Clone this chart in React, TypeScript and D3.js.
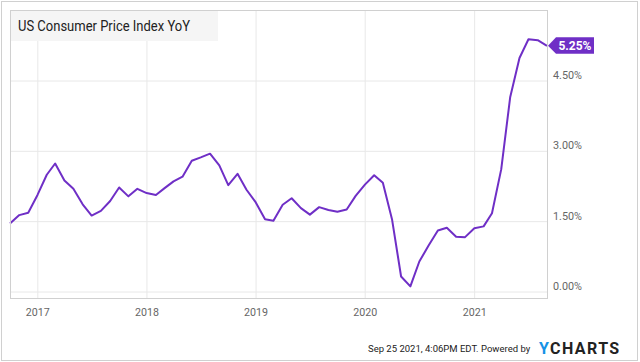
import React from "react";
import * as d3 from "d3";

const months: string[] = [
  "2016-09-30","2016-10-31","2016-11-30","2016-12-31",
  "2017-01-31","2017-02-28","2017-03-31","2017-04-30","2017-05-31","2017-06-30","2017-07-31","2017-08-31","2017-09-30","2017-10-31","2017-11-30","2017-12-31",
  "2018-01-31","2018-02-28","2018-03-31","2018-04-30","2018-05-31","2018-06-30","2018-07-31","2018-08-31","2018-09-30","2018-10-31","2018-11-30","2018-12-31",
  "2019-01-31","2019-02-28","2019-03-31","2019-04-30","2019-05-31","2019-06-30","2019-07-31","2019-08-31","2019-09-30","2019-10-31","2019-11-30","2019-12-31",
  "2020-01-31","2020-02-29","2020-03-31","2020-04-30","2020-05-31","2020-06-30","2020-07-31","2020-08-31","2020-09-30","2020-10-31","2020-11-30","2020-12-31",
  "2021-01-31","2021-02-28","2021-03-31","2021-04-30","2021-05-31","2021-06-30","2021-07-31","2021-08-31",
];
const cpiYoY: number[] = [
  1.46, 1.64, 1.69, 2.07,
  2.50, 2.74, 2.38, 2.20, 1.87, 1.63, 1.73, 1.94, 2.23, 2.04, 2.20, 2.11,
  2.07, 2.21, 2.36, 2.46, 2.80, 2.87, 2.95, 2.70, 2.28, 2.52, 2.18, 1.91,
  1.55, 1.52, 1.86, 2.00, 1.79, 1.65, 1.81, 1.75, 1.71, 1.76, 2.05, 2.29,
  2.49, 2.33, 1.54, 0.33, 0.12, 0.65, 0.99, 1.31, 1.37, 1.18, 1.17, 1.36,
  1.40, 1.68, 2.62, 4.16, 4.99, 5.39, 5.37, 5.25,
];
const yTicks: number[] = [0, 1.5, 3, 4.5];
const xTickYears: number[] = [2017, 2018, 2019, 2020, 2021];
const title = "US Consumer Price Index YoY";
const lastLabel = "5.25%";

const parse = d3.timeParse("%Y-%m-%d");

export default function App() {
  const W = 640, H = 362;
  const left = 10, right = 547, top = 10, bottom = 298;
  const dates = months.map((m) => parse(m) as Date);
  const x = d3.scaleTime().domain([dates[0], dates[dates.length - 1]]).range([left, right]);
  const y = d3.scaleLinear().domain([0, 4.5]).range([292, 81]);
  const line = d3.line<number>().x((_, i) => x(dates[i])).y((d) => y(d));
  const purple = "#6f2fc6";
  const lastY = y(cpiYoY[cpiYoY.length - 1]);
  const font = "Roboto, sans-serif";
  return (
    <svg width={W} height={H} style={{ position: "absolute", left: 0, top: 0 }} fontFamily={font}>
      <rect x={0} y={0} width={W} height={H} fill="#fff" />
      <rect x={1.5} y={1.5} width={636} height={359} fill="none" stroke="#d0d0d0" strokeWidth={1} />
      {yTicks.map((t) => (
        <line key={"gy" + t} x1={left} x2={right} y1={y(t)} y2={y(t)} stroke="#e8e8e8" strokeWidth={1} />
      ))}
      {xTickYears.map((yr) => {
        const xx = x(new Date(yr, 0, 1));
        return <line key={"gx" + yr} x1={xx} x2={xx} y1={top} y2={bottom} stroke="#e8e8e8" strokeWidth={1} />;
      })}
      <rect x={left} y={top} width={208} height={31} fill="#f5f5f5" />
      <text x={18} y={31} fontSize={14.5} fill="#222" textLength={172} lengthAdjust="spacingAndGlyphs">{title}</text>
      <path d={line(cpiYoY) || ""} fill="none" stroke={purple} strokeWidth={2} strokeLinejoin="round" />
      <rect x={left + 0.5} y={top + 0.5} width={right - left} height={bottom - top} fill="none" stroke="#d0d0d0" strokeWidth={1} />
      {yTicks.map((t) => (
        <text key={"ly" + t} x={553} y={y(t) - 2} fontSize={11.5} fill="#666" textLength={29} lengthAdjust="spacingAndGlyphs">
          {d3.format(".2f")(t) + "%"}
        </text>
      ))}
      {xTickYears.map((yr) => (
        <text key={"lx" + yr} x={x(new Date(yr, 0, 1))} y={316} fontSize={11.5} fill="#666" textAnchor="middle" textLength={24} lengthAdjust="spacingAndGlyphs">
          {yr}
        </text>
      ))}
      <path
        d={`M${right + 1},${lastY} L${right + 9},${lastY - 8.5} L${594},${lastY - 8.5} L${594},${lastY + 8} L${right + 9},${lastY + 8} Z`}
        fill={purple}
      />
      <text x={575} y={lastY + 4.5} fontSize={12} fontWeight="bold" fill="#fff" textAnchor="middle">
        {lastLabel}
      </text>
      <text x={368} y={352} fontSize={9.5} fill="#222">Sep 25 2021, 4:06PM EDT.  Powered by</text>
      <text x={539} y={354} fontSize={16} fontWeight="bold" letterSpacing={1.4}>
        <tspan fill="#1592e6">Y</tspan>
        <tspan fill="#222">CHARTS</tspan>
      </text>
    </svg>
  );
}
